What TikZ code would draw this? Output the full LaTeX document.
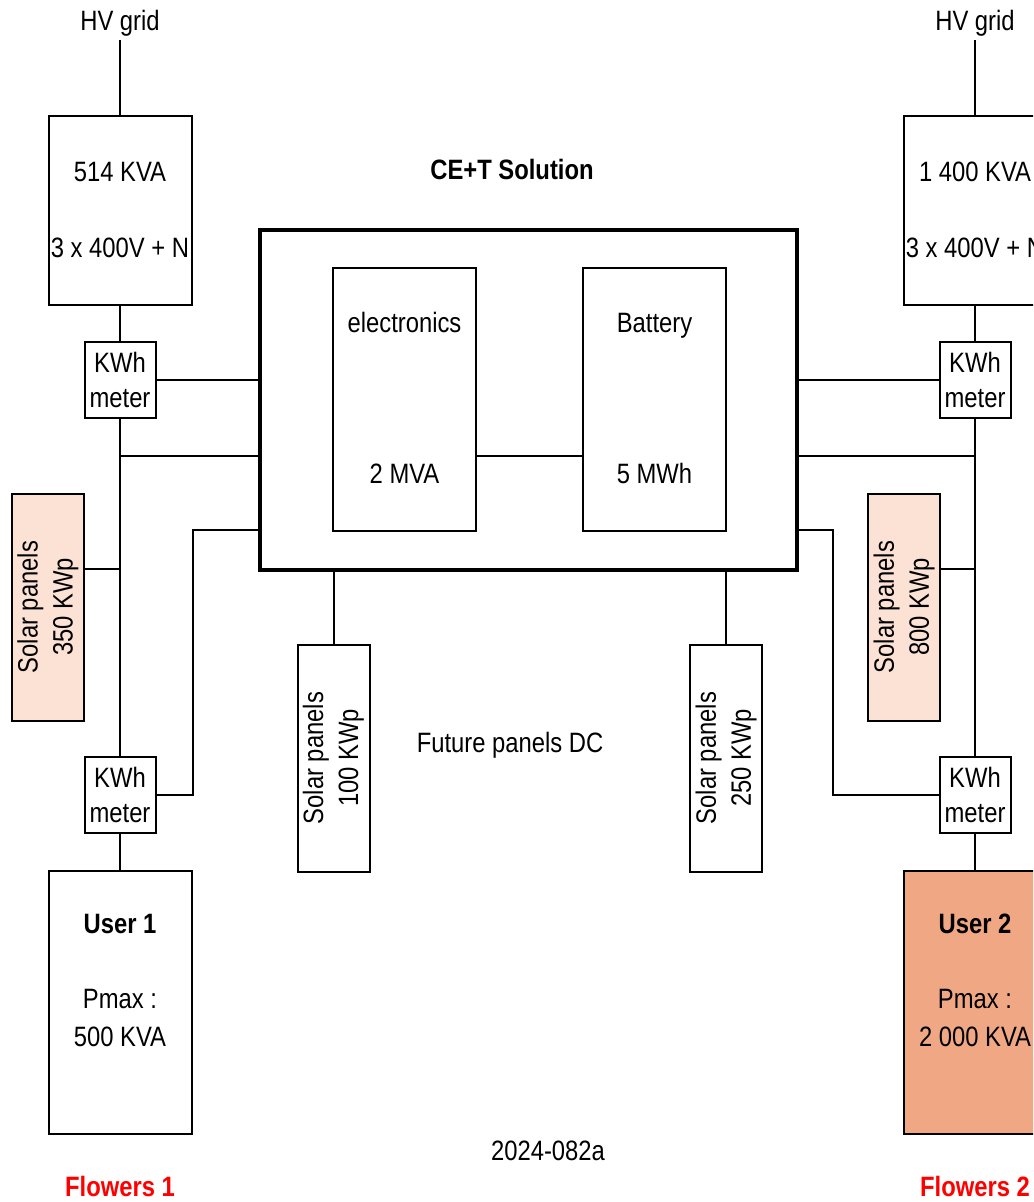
\documentclass[tikz,border=0pt]{standalone}
\usepackage{fontspec}
\setmainfont{Liberation Sans}[FakeStretch=0.85]
\usepackage{xcolor}
\usepackage{tikz}
\usetikzlibrary{positioning,calc}
\definecolor{panelpink}{HTML}{FBE2D5}
\definecolor{userorange}{HTML}{F0A884}

\begin{document}
\begin{tikzpicture}[x=0.5pt, y=-0.5pt, font=\fontsize{14pt}{17.5pt}\selectfont,
    wire/.style={line width=1pt},
    unitbox/.style={draw, line width=1pt, inner sep=0pt, minimum width=71.5pt},
    trafo/.style={unitbox, minimum height=94.5pt},
    userbox/.style={unitbox, minimum height=131.5pt},
    meterbox/.style={draw, line width=1pt, inner sep=0pt, minimum width=35.5pt, minimum height=38pt, align=center},
    panelbox/.style={draw, line width=1pt, inner sep=0pt, minimum width=36pt, minimum height=113.5pt},
    txt/.style={inner sep=0pt, anchor=base},
    gridtxt/.style={txt, outer sep=1.5pt},
    flowers/.style={txt, font=\fontsize{14pt}{17.5pt}\selectfont\bfseries, text=red}]
\useasboundingbox (0,0) rectangle (1033,1202);
\clip (0,0) rectangle (1033,1202);

% central unit
\node[draw, line width=2pt, inner sep=0pt, minimum width=268.5pt, minimum height=170pt] (ce) at (528.5,400) {};
\node[txt, font=\fontsize{14pt}{17.5pt}\selectfont\bfseries] (cetitle) at (512,180) {CE+T Solution};
\node[unitbox, minimum height=131.5pt] (el) at (404.5,399.5) {};
\node[unitbox, minimum height=131.5pt] (bat) at (654.5,399.5) {};
\node[txt] (eltop) at (404.5,333) {electronics};
\node[txt] (elbot) at (404.5,483) {2 MVA};
\node[txt] (battop) at (654.5,333) {Battery};
\node[txt] (batbot) at (654.5,483) {5 MWh};
\draw[wire] (el.east |- 0,456) -- (bat.west |- 0,456);

% left side
\node[gridtxt] (hv1) at (120,31) {HV grid};
\node[trafo] (tr1) at (120,210.5) {};
\node[txt] (tr1a) at (120,182) {514 KVA};
\node[txt] (tr1b) at (120,258) {3 x 400V + N};
\node[meterbox] (m1) at (120,380) {KWh\\meter};
\node[meterbox] (m2) at (120,795) {KWh\\meter};
\node[panelbox, fill=panelpink] (s1) at (48,607) {};
\node[rotate=90, align=center, inner sep=0pt] (s1txt) at (s1) {Solar panels\\350 KWp};
\node[userbox] (u1) at (120,1002.5) {};
\node[txt, font=\fontsize{14pt}{17.5pt}\selectfont\bfseries] (u1a) at (120,933) {User 1};
\node[txt] (u1b) at (120,1008) {Pmax :};
\node[txt] (u1c) at (120,1046) {500 KVA};
\node[flowers] (f1) at (120,1196) {Flowers 1};
\coordinate (j1) at (120,456);
\coordinate (j2) at (120,569);
\draw[wire] (hv1.south) -- (tr1.north);
\draw[wire] (tr1.south) -- (m1.north);
\draw[wire] (m1.south) -- (m2.north);
\draw[wire] (m2.south) -- (u1.north);
\draw[wire] (m1.east) -- (m1.east -| ce.west);
\draw[wire] (j1) -- (j1 -| ce.west);
\draw[wire] (j2) -- (j2 -| s1.east);
\draw[wire] (m2.east) -- ++(36,0) |- (ce.west |- 0,530);

% right side
\node[gridtxt] (hv2) at (975,31) {HV grid};
\node[trafo] (tr2) at (975,210.5) {};
\node[txt] (tr2a) at (975,182) {1 400 KVA};
\node[txt] (tr2b) at (975,258) {3 x 400V + N};
\node[meterbox] (m3) at (975,380) {KWh\\meter};
\node[meterbox] (m4) at (975,795) {KWh\\meter};
\node[panelbox, fill=panelpink] (s2) at (904,607) {};
\node[rotate=90, align=center, inner sep=0pt] (s2txt) at (s2) {Solar panels\\800 KWp};
\node[userbox, fill=userorange] (u2) at (975,1002.5) {};
\node[txt, font=\fontsize{14pt}{17.5pt}\selectfont\bfseries] (u2a) at (975,933) {User 2};
\node[txt] (u2b) at (975,1008) {Pmax :};
\node[txt] (u2c) at (975,1046) {2 000 KVA};
\node[flowers] (f2) at (975,1196) {Flowers 2};
\coordinate (j3) at (975,456);
\coordinate (j4) at (975,569);
\draw[wire] (hv2.south) -- (tr2.north);
\draw[wire] (tr2.south) -- (m3.north);
\draw[wire] (m3.south) -- (m4.north);
\draw[wire] (m4.south) -- (u2.north);
\draw[wire] (m3.west) -- (m3.west -| ce.east);
\draw[wire] (j3) -- (j3 -| ce.east);
\draw[wire] (j4) -- (j4 -| s2.east);
\draw[wire] (m4.west) -- ++(-106,0) |- (ce.east |- 0,530);

% DC panels below
\node[panelbox] (p1) at (333.5,758) {};
\node[rotate=90, align=center, inner sep=0pt] (p1txt) at (p1) {Solar panels\\100 KWp};
\node[panelbox] (p2) at (726,758) {};
\node[rotate=90, align=center, inner sep=0pt] (p2txt) at (p2) {Solar panels\\250 KWp};
\draw[wire] (p1.north) -- (p1.north |- ce.south);
\draw[wire] (p2.north) -- (p2.north |- ce.south);
\node[txt] (future) at (510,752) {Future panels DC};
\node[txt] (ref) at (548,1160) {2024-082a};
\end{tikzpicture}
\end{document}
